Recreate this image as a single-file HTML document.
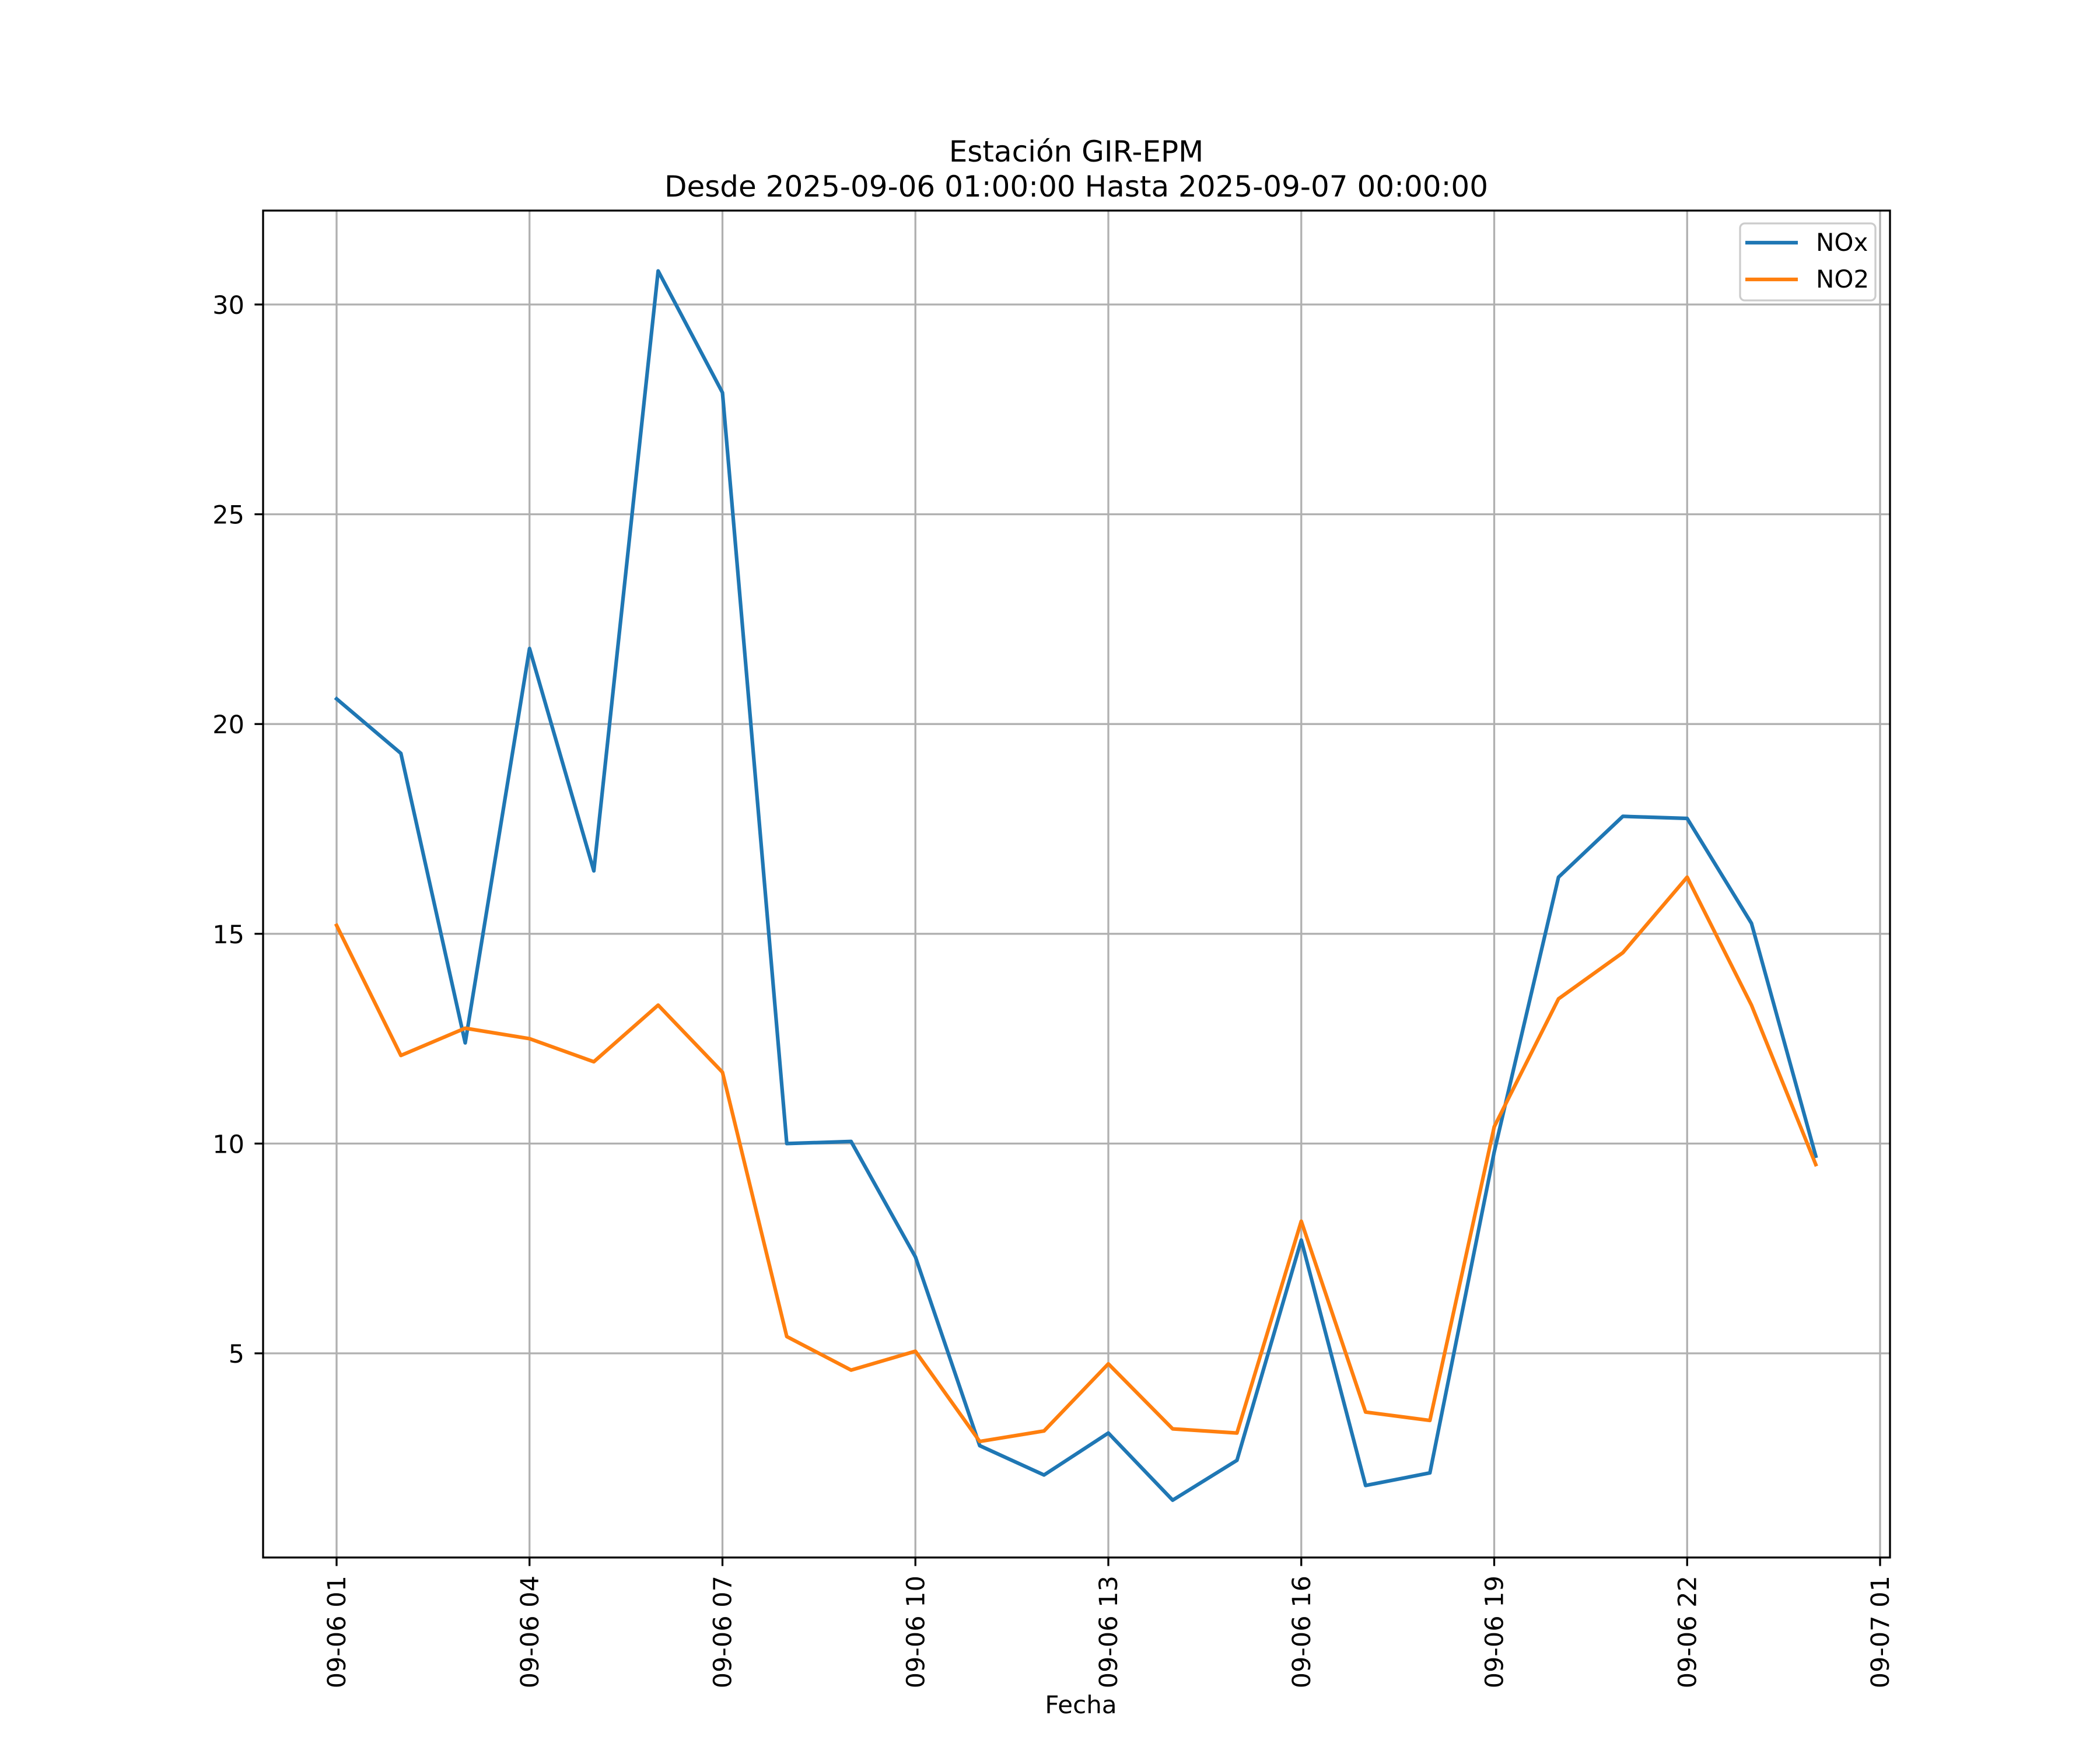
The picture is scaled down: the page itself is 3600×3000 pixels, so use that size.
<!DOCTYPE html>
<html><head><meta charset="utf-8"><style>html,body{margin:0;padding:0;background:#fff}svg{display:block}text{font-family:"DejaVu Sans","Liberation Sans",sans-serif;fill:#000}</style></head>
<body>
<svg id="chart" width="3600" height="3000" viewBox="0 0 3600 3000" xmlns="http://www.w3.org/2000/svg">
<rect width="3600" height="3000" fill="#fff"/>
<g id="grid"></g>
<g id="series"></g>
<rect x="451" y="361" width="2789" height="2309" fill="none" stroke="#000" stroke-width="3.3"/>
<g id="ticks"></g>
<text x="1845" y="277" font-size="50" text-anchor="middle">Estación GIR-EPM</text>
<text x="1845" y="337" font-size="50" text-anchor="middle">Desde 2025-09-06 01:00:00 Hasta 2025-09-07 00:00:00</text>
<text x="1853" y="2937" font-size="42" text-anchor="middle">Fecha</text>
<g>
<rect x="2983" y="383" width="232" height="132" rx="8" fill="#fff" fill-opacity="0.8" stroke="#ccc" stroke-width="3.3"/>
<line x1="2992" y1="416" x2="3082" y2="416" stroke="#1f77b4" stroke-width="6.25"/>
<text x="3113" y="430" font-size="42">NOx</text>
<line x1="2992" y1="479" x2="3082" y2="479" stroke="#ff7f0e" stroke-width="6.25"/>
<text x="3113" y="493" font-size="42">NO2</text>
</g>
</svg>
<script>
const hours = [1,2,3,4,5,6,7,8,9,10,11,12,13,14,15,16,17,18,19,20,21,22,23,24];
const noxValues = [20.6,19.3,12.4,21.8,16.5,30.8,27.9,10.0,10.05,7.3,2.8,2.1,3.1,1.5,2.45,7.7,1.85,2.15,9.8,16.35,17.8,17.75,15.25,9.7];
const no2Values = [15.2,12.1,12.75,12.5,11.95,13.3,11.7,5.4,4.6,5.05,2.9,3.15,4.75,3.2,3.1,8.15,3.6,3.4,10.4,13.45,14.55,16.35,13.3,9.5];
const yTicks = [5,10,15,20,25,30];
const xTickHours = [1,4,7,10,13,16,19,22,25];
const xTickLabels = ["09-06 01","09-06 04","09-06 07","09-06 10","09-06 13","09-06 16","09-06 19","09-06 22","09-07 01"];

const NS = "http://www.w3.org/2000/svg";
const L=451,R=3240,T=361,B=2670;
function xs(h){return 577+(h-1)*110.25;}
function ys(v){return 2320-(v-5)*71.92;}
function mk(tag,attrs,parent){const e=document.createElementNS(NS,tag);for(const k in attrs)e.setAttribute(k,attrs[k]);parent.appendChild(e);return e;}
const grid=document.getElementById('grid'),ticks=document.getElementById('ticks'),series=document.getElementById('series');
yTicks.forEach(v=>{
  const y=ys(v);
  const g=mk('line',{x1:L,x2:R,y1:y,y2:y,stroke:'#b0b0b0','stroke-width':3.3},grid);
  
  
  const t=mk('line',{x1:L-14.6,x2:L,y1:y,y2:y,stroke:'#000','stroke-width':3.3},ticks);
  
  
  const tx=mk('text',{x:419,y:y+16,'font-size':43,'text-anchor':'end'},ticks);
  tx.textContent=String(v);
  
  
});
xTickHours.forEach((h,i)=>{
  const x=xs(h);
  const g=mk('line',{x1:x,x2:x,y1:T,y2:B,stroke:'#b0b0b0','stroke-width':3.3},grid);
  
  
  const t=mk('line',{x1:x,x2:x,y1:B,y2:B+14.6,stroke:'#000','stroke-width':3.3},ticks);
  
  
  const tx=mk('text',{x:0,y:0,'font-size':43,'text-anchor':'end',transform:`translate(${x+15},${B+31}) rotate(-90)`},ticks);
  tx.textContent=xTickLabels[i];
  
  
});
function line(vals,color,name){
  const p=mk('polyline',{points:vals.map((v,i)=>xs(hours[i])+','+ys(v)).join(' '),fill:'none',stroke:color,'stroke-width':6.25,'stroke-linejoin':'round','stroke-linecap':'square'},series);
  
  
}
line(noxValues,'#1f77b4','nox-line');
line(no2Values,'#ff7f0e','no2-line');
</script>
</body></html>
